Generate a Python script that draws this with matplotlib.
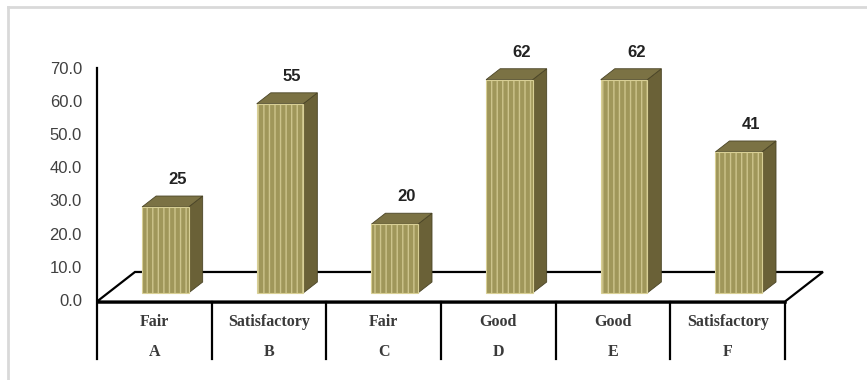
import matplotlib
matplotlib.use("Agg")
import matplotlib.pyplot as plt
from matplotlib.patches import Polygon

# ---- data ----
groups = ["A", "B", "C", "D", "E", "F"]
ratings = ["Fair", "Satisfactory", "Fair", "Good", "Good", "Satisfactory"]
values = [25, 55, 20, 62, 62, 41]
yticks = [0, 10, 20, 30, 40, 50, 60, 70]

# ---- geometry / style ----
DX, DY = 0.331, 8.89        # floor depth vector in data units
K = 1.036                   # perspective scale of bars
W = 0.406                   # bar width (category units)
D0, D1 = 0.29, 0.66         # bar depth range within floor
FRONT = "#a0975a"
STRIPE = "#cdc48c"
SIDE = "#6a6137"
TOP = "#7b7244"

plt.rcParams["hatch.linewidth"] = 1.0

fig = plt.figure(figsize=(8.67, 3.8), dpi=100)
ax = fig.add_axes([0, 0, 1, 1])
ax.set_xlim(-0.846, 6.715)
ax.set_ylim(-23.64, 90.8)
ax.axis("off")


def P(x, d, h):
    return (x + d * DX, h + d * DY)


# floor
n = len(groups)
floor = [P(0, 0, 0), P(n, 0, 0), P(n, 1, 0), P(0, 1, 0)]
ax.add_patch(Polygon(floor, closed=True, facecolor="white", edgecolor="black",
                     lw=1.6, zorder=1))

# y axis + table dividers
ax.plot([0, 0], [-17.3, 70.3], color="black", lw=1.6, zorder=2)
for i in range(1, n + 1):
    ax.plot([i, i], [-17.3, 0], color="black", lw=1.6, zorder=2)
ax.plot([0, n], [0, 0], color="black", lw=1.8, zorder=2)

for t in yticks:
    ax.text(-0.131, t, f"{t:.1f}", ha="right", va="center", fontsize=12,
            family="Liberation Sans", color="#404040")

# bars
for i, v in enumerate(values):
    xc = i + 0.5
    x0, x1 = xc - W / 2, xc + W / 2
    h = v * K
    front = [P(x0, D0, 0), P(x1, D0, 0), P(x1, D0, h), P(x0, D0, h)]
    side = [P(x1, D0, 0), P(x1, D1, 0), P(x1, D1, h), P(x1, D0, h)]
    top = [P(x0, D0, h), P(x1, D0, h), P(x1, D1, h), P(x0, D1, h)]
    ax.add_patch(Polygon(side, closed=True, facecolor=SIDE, edgecolor="#4a4426",
                         lw=0.6, zorder=3))
    ax.add_patch(Polygon(top, closed=True, facecolor=TOP, edgecolor="#4a4426",
                         lw=0.6, zorder=3))
    ax.add_patch(Polygon(front, closed=True, facecolor=FRONT, edgecolor="none",
                         lw=0, zorder=4))
    ax.add_patch(Polygon(front, closed=True, facecolor="none", edgecolor=STRIPE,
                         lw=0, hatch="|||", zorder=5))
    ax.add_patch(Polygon(front, closed=True, facecolor="none", edgecolor="#d8cf95",
                         lw=0.8, zorder=6))
    tx, ty = P(xc + 0.02, 0.55, h)
    ty = h + D1 * DY
    ax.annotate(f"{v}", xy=(tx, ty), xytext=(0, 12), textcoords="offset points",
                ha="center", va="center", fontsize=12, fontweight="bold",
                family="Liberation Sans", color="#222222", zorder=7)

# table text
for i, (r, g) in enumerate(zip(ratings, groups)):
    ax.text(i + 0.5, -6.2, r, ha="center", va="center", fontsize=11.5,
            fontweight="bold", family="Liberation Serif", color="#3a3a3a")
    ax.text(i + 0.5, -15.2, g, ha="center", va="center", fontsize=11.5,
            fontweight="bold", family="Liberation Serif", color="#3a3a3a")

# light frame (top and left)
ax.plot([-0.776, 6.715], [88.7, 88.7], color="#d9d9d9", lw=2, clip_on=False)
ax.plot([-0.776, -0.776], [88.7, -23.64], color="#d9d9d9", lw=2, clip_on=False)

fig.savefig("out.png", dpi=100)
